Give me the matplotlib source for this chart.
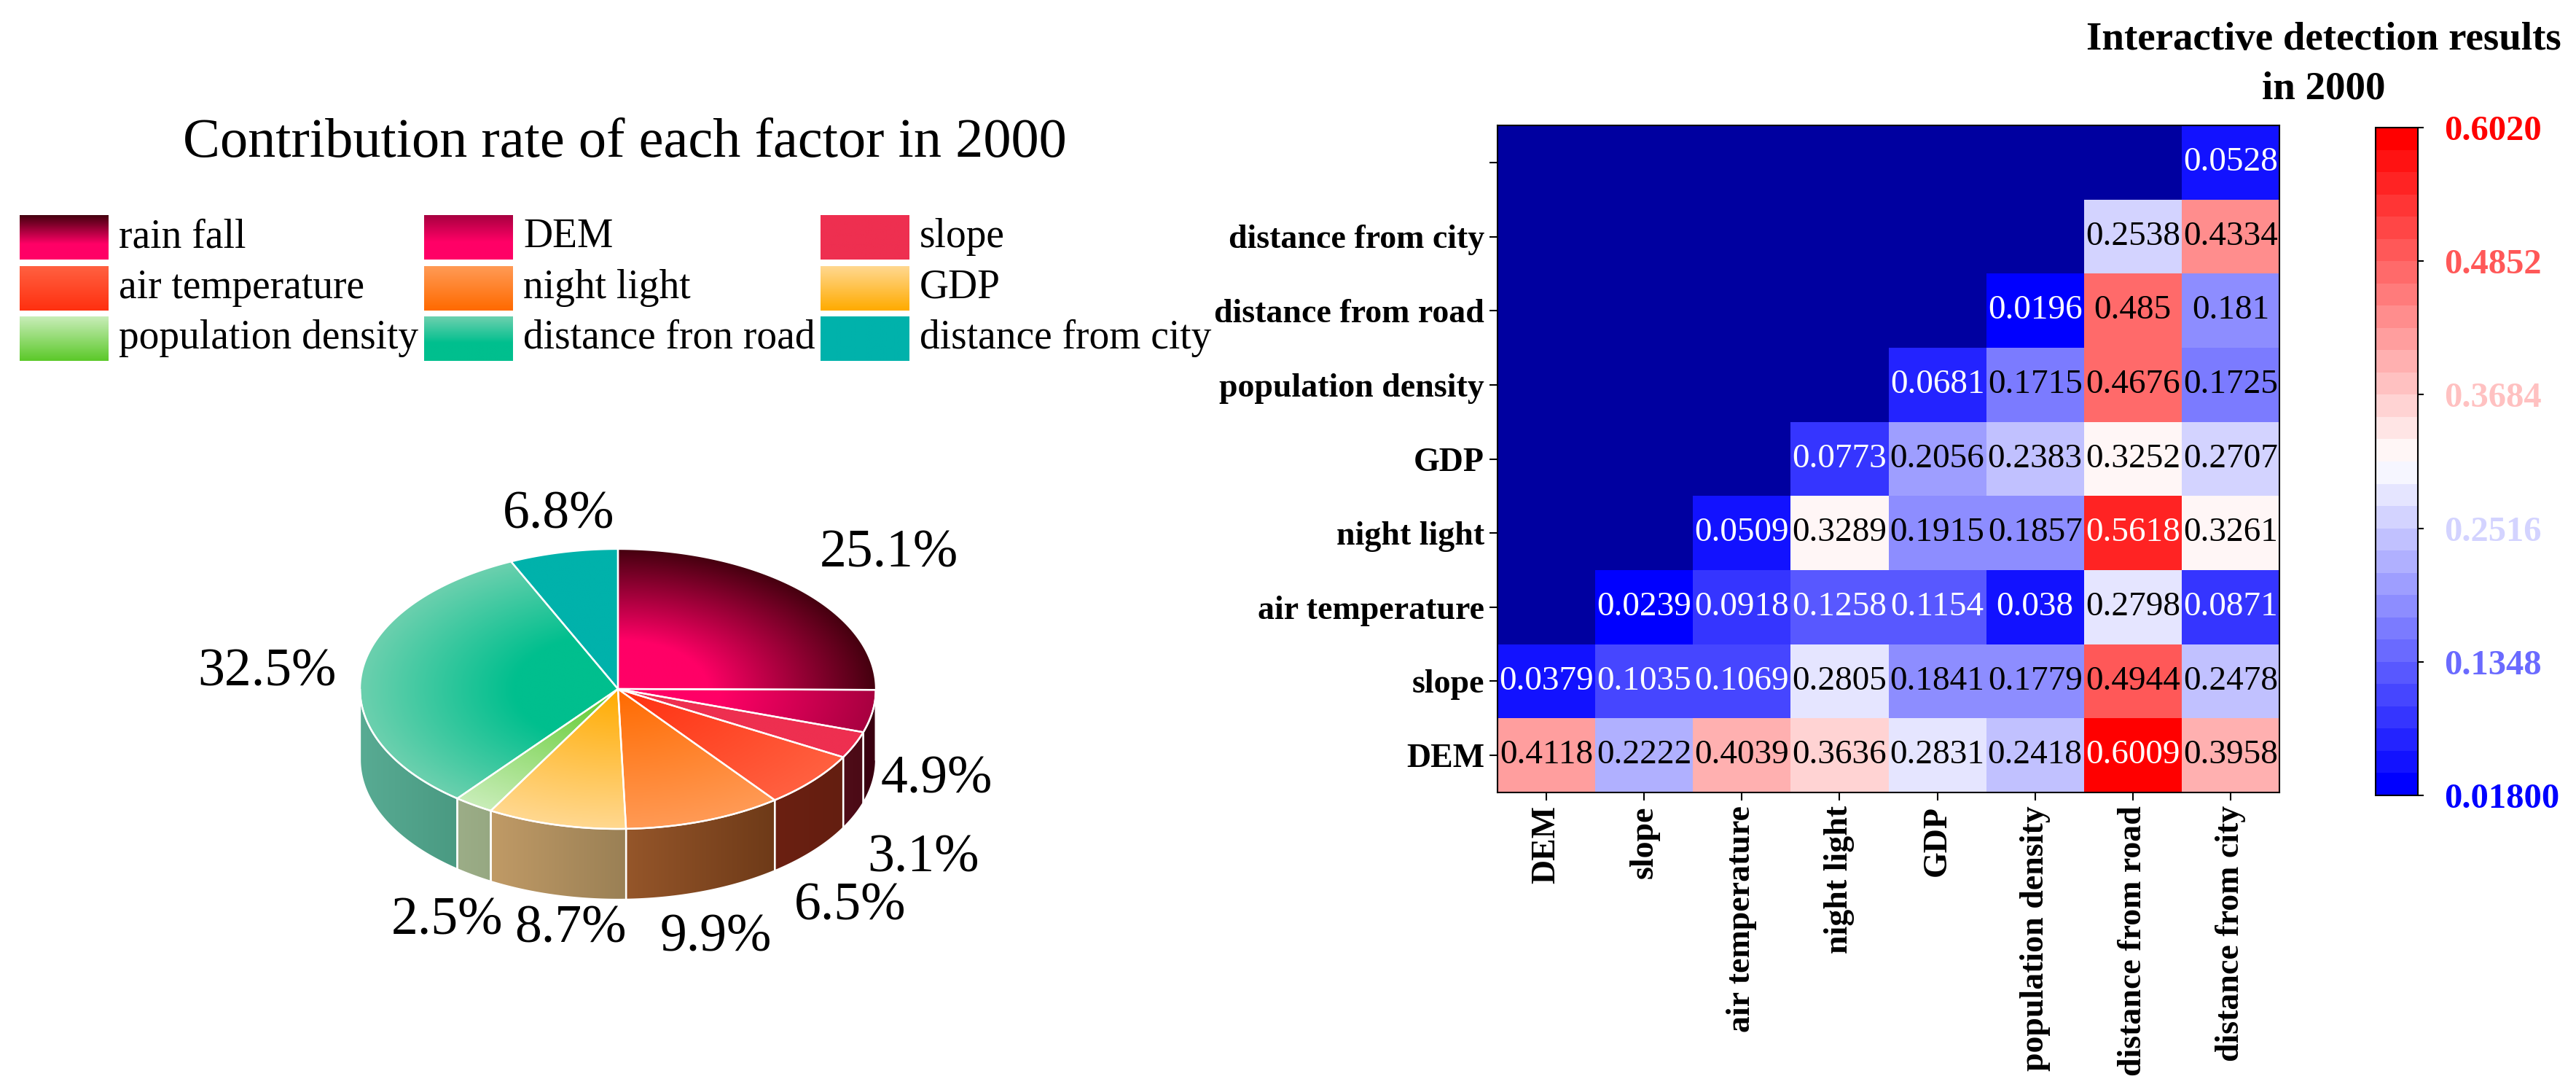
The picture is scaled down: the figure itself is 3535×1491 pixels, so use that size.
import numpy as np
import matplotlib
matplotlib.use('Agg')
import matplotlib.pyplot as plt
from matplotlib.colors import LinearSegmentedColormap, Normalize, to_rgb
from matplotlib.patches import Polygon

plt.rcParams['font.family'] = ['Liberation Serif', 'DejaVu Serif']

W, H = 3535, 1491

# pie data
pie_names = ['rain fall', 'DEM', 'slope', 'air temperature', 'night light', 'GDP',
             'population density', 'distance fron road', 'distance from city']
pie_values = [25.1, 4.9, 3.1, 6.5, 9.9, 8.7, 2.5, 32.5, 6.8]
pie_labels = ['25.1%', '4.9%', '3.1%', '6.5%', '9.9%', '8.7%', '2.5%', '32.5%', '6.8%']
# where each label sits, in picture pixels
label_x = [1220, 1285, 1267, 1167, 982, 783, 614, 366, 767]
label_y = [760, 1070, 1178, 1244, 1287, 1275, 1264, 923, 707]

# gradient: (inner colour, where it starts to fade, outer colour)
inner_colors = ['#ff0066', '#ff0066', '#ee2f50', '#ff3010', '#ff6a00', '#ffab00', '#5cc92a', '#00bf8e', '#00b2ab']
inner_stops = [0.35, 0.40, 0.0, 0.0, 0.0, 0.0, 0.0, 0.40, 0.0]
outer_colors = ['#45000f', '#a80040', '#ee2f50', '#ff6040', '#ff9a55', '#ffd890', '#c8edb8', '#6cd0ae', '#00b2ab']
side_left = ['#3a0010', '#3a0010', '#500c18', '#6b2012', '#95562a', '#c09a66', '#9cad87', '#58ab93', '#00807a']
side_right = ['#3a0010', '#3a0010', '#4a0a16', '#641e10', '#6e3a18', '#9a8055', '#96a882', '#4a9a82', '#00807a']

# heatmap data
row_labels = ['', 'distance from city', 'distance from road', 'population density', 'GDP',
              'night light', 'air temperature', 'slope', 'DEM']
col_labels = ['DEM', 'slope', 'air temperature', 'night light', 'GDP',
              'population density', 'distance from road', 'distance from city']
n = np.nan
matrix = [
    [n, n, n, n, n, n, n, 0.0528],
    [n, n, n, n, n, n, 0.2538, 0.4334],
    [n, n, n, n, n, 0.0196, 0.485, 0.181],
    [n, n, n, n, 0.0681, 0.1715, 0.4676, 0.1725],
    [n, n, n, 0.0773, 0.2056, 0.2383, 0.3252, 0.2707],
    [n, n, 0.0509, 0.3289, 0.1915, 0.1857, 0.5618, 0.3261],
    [n, 0.0239, 0.0918, 0.1258, 0.1154, 0.038, 0.2798, 0.0871],
    [0.0379, 0.1035, 0.1069, 0.2805, 0.1841, 0.1779, 0.4944, 0.2478],
    [0.4118, 0.2222, 0.4039, 0.3636, 0.2831, 0.2418, 0.6009, 0.3958],
]
cbar_ticks = [0.018, 0.1348, 0.2516, 0.3684, 0.4852, 0.602]
cbar_labels = ['0.01800', '0.1348', '0.2516', '0.3684', '0.4852', '0.6020']


def px_axes(fig, left, top, right, bottom):
    return fig.add_axes([left / W, 1 - bottom / H, (right - left) / W, (bottom - top) / H])


def put_text(fig, x, y, s, **kw):
    fig.text(x / W, 1 - y / H, s, **kw)


def slice_cmap(i):
    stops = [(0, inner_colors[i]), (max(inner_stops[i], 0.001), inner_colors[i]), (1, outer_colors[i])]
    return LinearSegmentedColormap.from_list('s%d' % i, stops)


fig = plt.figure(figsize=(W / 100, H / 100), dpi=100)

# ---- pie, drawn as tilted disc ----
cx, cy, rx = 848, 945, 354
ratio = 192 / 354
depth = 97 / 354
m = 1.02
ax = px_axes(fig, cx - m * rx, cy - (ratio + 0.02) * rx, cx + m * rx, cy + (ratio + depth + 0.02) * rx)
ax.set_xlim(-m, m)
ax.set_ylim(-ratio - depth - 0.02, ratio + 0.02)
ax.set_autoscale_on(False)
ax.axis('off')

edges = 90 - np.cumsum([0] + pie_values) * 3.6

gx, gy = np.meshgrid(np.linspace(-1, 1, 900), np.linspace(ratio, -ratio, 600))
gr = np.clip(np.hypot(gx, gy / ratio), 0, 1)


def clipped_image(rgb, extent, xy):
    patch = Polygon(xy, closed=True, facecolor='none', edgecolor='white', linewidth=1.7, zorder=3)
    ax.add_patch(patch)
    im = ax.imshow(rgb, extent=extent, aspect='auto', interpolation='bilinear', zorder=2)
    im.set_clip_path(patch)


# side walls, only the front part of the rim shows
for i in range(len(pie_values)):
    a2 = min(edges[i], 0)
    b2 = max(edges[i + 1], -180)
    if a2 <= b2:
        continue
    t = np.radians(np.linspace(a2, b2, 80))
    x = np.cos(t)
    y = ratio * np.sin(t)
    xy = np.concatenate([np.column_stack([x, y]), np.column_stack([x[::-1], y[::-1] - depth])])
    ramp = np.linspace(0, 1, 64)[None, :, None]
    rgb = (1 - ramp) * np.array(to_rgb(side_left[i])) + ramp * np.array(to_rgb(side_right[i]))
    clipped_image(rgb, (x.min(), x.max(), -ratio - depth, ratio), xy)

# top faces
for i in range(len(pie_values)):
    t = np.radians(np.linspace(edges[i], edges[i + 1], 120))
    xy = np.vstack([[0, 0], np.column_stack([np.cos(t), ratio * np.sin(t)])])
    rgb = slice_cmap(i)(gr)[..., :3]
    clipped_image(rgb, (-1, 1, -ratio, ratio), xy)

for i, s in enumerate(pie_labels):
    put_text(fig, label_x[i], label_y[i], s, fontsize=53, ha='center', va='center', color='black')

put_text(fig, 857, 197, 'Contribution rate of each factor in 2000', fontsize=55, ha='center', va='center')

# ---- legend, swatches in three columns ----
col_x = [27, 582, 1126]
row_y = [295, 365, 434]
for i, name in enumerate(pie_names):
    left = col_x[i % 3]
    top = row_y[i // 3]
    lax = px_axes(fig, left, top, left + 122, top + 61)
    ramp = np.linspace(1, 0, 64)[:, None]
    lax.imshow(slice_cmap(i)(ramp)[..., :3], aspect='auto', interpolation='bilinear')
    lax.axis('off')
    put_text(fig, left + 136, top + 30, name, fontsize=40, ha='left', va='center')

# ---- heatmap ----
data = np.ma.masked_invalid(np.array(matrix))
cmap = plt.get_cmap('bwr', 30).copy()
cmap.set_bad('#0000a0')
norm = Normalize(vmin=0.018, vmax=0.602)

hax = px_axes(fig, 2055, 172, 3128, 1087)
mesh = hax.pcolormesh(np.arange(9), np.arange(10), data, cmap=cmap, norm=norm)
hax.set_ylim(9, 0)
hax.set_xticks(np.arange(8) + 0.5)
hax.set_xticklabels(col_labels, rotation=90, fontsize=33, fontweight='bold')
hax.set_yticks(np.arange(9) + 0.5)
hax.set_yticklabels(row_labels, fontsize=33, fontweight='bold')
hax.tick_params(length=8, width=1.5, pad=5)
for sp in hax.spines.values():
    sp.set_linewidth(1.5)

for r in range(9):
    for c in range(8):
        v = matrix[r][c]
        if np.isnan(v):
            continue
        col = 'white' if v < 0.15 or v > 0.55 else 'black'
        hax.text(c + 0.5, r + 0.5, str(v), ha='center', va='center', fontsize=34, color=col)

# ---- colour bar ----
cax = px_axes(fig, 3260, 175, 3318, 1091)
cb = fig.colorbar(mesh, cax=cax, ticks=cbar_ticks)
cb.ax.set_yticklabels(cbar_labels, fontsize=35, fontweight='bold')
cb.ax.tick_params(length=6, width=1.5, pad=20)
cb.outline.set_linewidth(1.5)
for lab, v in zip(cb.ax.get_yticklabels(), cbar_ticks):
    lab.set_color(cmap(norm(v)))

put_text(fig, 3189, 55, 'Interactive detection results', fontsize=39.5, fontweight='bold', ha='center', va='center')
put_text(fig, 3189, 122, 'in 2000', fontsize=39.5, fontweight='bold', ha='center', va='center')

fig.savefig('out.png', dpi=100)
